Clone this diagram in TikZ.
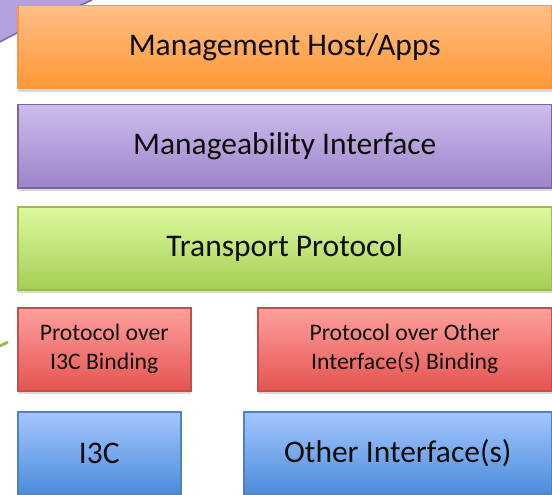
\documentclass[tikz,border=0pt]{standalone}
\usepackage{fontspec}
\setmainfont{Carlito}
\usepackage{tikz}
\usetikzlibrary{positioning,shadows}
\definecolor{orangetop}{RGB}{255,190,134}
\definecolor{orangebot}{RGB}{255,152,52}
\definecolor{orangeline}{RGB}{247,150,70}
\definecolor{purpletop}{RGB}{205,188,236}
\definecolor{purplebot}{RGB}{158,132,202}
\definecolor{purpleline}{RGB}{128,100,162}
\definecolor{calloutfill}{RGB}{180,160,222}
\definecolor{greentop}{RGB}{220,250,160}
\definecolor{greenbot}{RGB}{166,206,84}
\definecolor{greenline}{RGB}{155,187,89}
\definecolor{redtop}{RGB}{255,160,158}
\definecolor{redbot}{RGB}{228,84,80}
\definecolor{redline}{RGB}{192,80,77}
\definecolor{bluetop}{RGB}{164,198,255}
\definecolor{bluebot}{RGB}{74,140,218}
\definecolor{blueline}{RGB}{79,129,189}

\begin{document}
\begin{tikzpicture}[x=1pt, y=-1pt,
    layer/.style={draw, line width=1.5pt, anchor=north west, inner sep=0pt,
      align=center, minimum height=83pt, text=black!95,
      font=\fontsize{31.5}{38}\selectfont,
      drop shadow={shadow xshift=0pt, shadow yshift=-3pt, opacity=0.3}},
    binding/.style={layer, font=\fontsize{23.7}{29}\selectfont},
    orangebox/.style={draw=orangeline, top color=orangetop, bottom color=orangebot},
    purplebox/.style={draw=purpleline, top color=purpletop, bottom color=purplebot},
    greenbox/.style={draw=greenline, top color=greentop, bottom color=greenbot},
    redbox/.style={draw=redline, top color=redtop, bottom color=redbot},
    bluebox/.style={draw=blueline, top color=bluetop, bottom color=bluebot}]
  \useasboundingbox (0,0) rectangle (552,495);

  % callout peeking in at the top left corner
  \fill[calloutfill] (0,0) -- (92,0) .. controls (62,14) and (28,26) .. (0,42) -- cycle;
  \draw[purpleline, line width=1.5pt] (92,0) .. controls (62,14) and (28,26) .. (0,42);

  % green connector coming in from the left
  \coordinate (linkA) at (0,346);
  \coordinate (linkB) at (8,342);
  \draw[greenline, line width=3pt] (linkA) -- (linkB);

  % management stack
  \node[layer, orangebox, minimum width=534pt] (host) at (17,5) {Management Host/Apps};
  \node[layer, purplebox, minimum width=534pt] (mif) at (17,104) {Manageability Interface};
  \node[layer, greenbox, minimum width=534pt] (transport) at (17,206) {Transport Protocol};

  % bindings
  \node[binding, redbox, minimum width=173pt] (i3cbind) at (17,307) {Protocol over\\I3C Binding};
  \node[binding, redbox, minimum width=294pt] (otherbind) at (257,307) {Protocol over Other\\Interface(s) Binding};

  % physical interfaces
  \node[layer, bluebox, minimum width=163pt] (i3c) at (17,411) {I3C};
  \node[layer, bluebox, minimum width=308pt] (otherif) at (243,411) {Other Interface(s)};
\end{tikzpicture}
\end{document}
